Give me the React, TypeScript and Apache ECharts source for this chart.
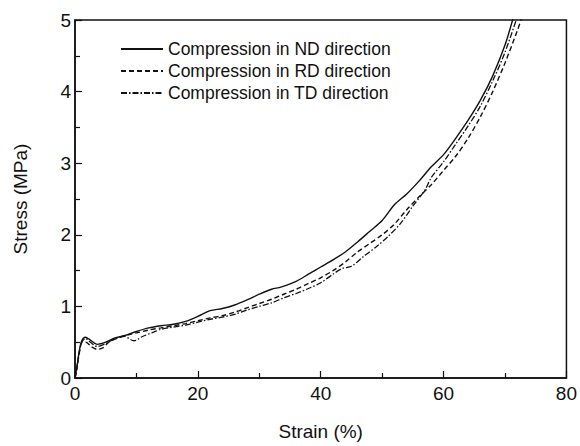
import React, { useEffect, useRef } from "react";
import * as echarts from "echarts";

const xTicks = [0, 20, 40, 60, 80];
const yTicks = [0, 1, 2, 3, 4, 5];

const seriesNames = [
  "Compression in ND direction",
  "Compression in RD direction",
  "Compression in TD direction",
];

// strain (%), stress (MPa)
const ndData: number[][] = [
  [0, 0], [0.3, 0.15], [0.7, 0.38], [1.1, 0.52], [1.7, 0.57], [2.5, 0.53], [3.6, 0.47],
  [5, 0.5], [6.5, 0.56], [8, 0.59], [10, 0.65], [12, 0.7], [14, 0.73], [16, 0.75],
  [18, 0.79], [20, 0.86], [22, 0.94], [24, 0.97], [26, 1.02], [28, 1.09], [30, 1.17],
  [32, 1.24], [33.5, 1.27], [36, 1.35], [38, 1.45], [40, 1.55], [42, 1.65], [44, 1.76],
  [46, 1.9], [48, 2.05], [50, 2.2], [52, 2.42], [54, 2.57], [56, 2.75], [58, 2.95],
  [60, 3.12], [62, 3.35], [64, 3.6], [66, 3.88], [68, 4.22], [70, 4.65], [71.3, 5.02],
];

const rdData: number[][] = [
  [0, 0], [0.3, 0.12], [0.7, 0.35], [1.2, 0.5], [1.8, 0.5], [2.6, 0.44], [3.6, 0.4],
  [4.5, 0.42], [5.5, 0.5], [7, 0.56], [8.5, 0.6], [10, 0.63], [12, 0.67], [14, 0.7],
  [16, 0.73], [18, 0.76], [20, 0.8], [22, 0.84], [24, 0.87], [26, 0.92], [28, 0.98],
  [30, 1.04], [32, 1.1], [34, 1.17], [36, 1.24], [38, 1.32], [40, 1.4], [42, 1.5],
  [44, 1.62], [46, 1.76], [48, 1.88], [50, 2.0], [52, 2.15], [54, 2.35], [56, 2.53],
  [58, 2.7], [60, 2.9], [62, 3.1], [64, 3.35], [66, 3.65], [68, 4.0], [70, 4.4],
  [72, 4.85], [72.8, 5.05],
];

const tdData: number[][] = [
  [0, 0], [0.3, 0.14], [0.7, 0.36], [1.1, 0.5], [1.7, 0.55], [2.5, 0.5], [3.6, 0.44],
  [5, 0.48], [6.5, 0.55], [8, 0.58], [9.6, 0.52], [11, 0.58], [12.8, 0.64], [14, 0.68],
  [16, 0.71], [18, 0.74], [20, 0.78], [22, 0.82], [24, 0.85], [26, 0.89], [28, 0.95],
  [30, 1.0], [32, 1.05], [34, 1.12], [36, 1.18], [38, 1.25], [40, 1.33], [42, 1.45],
  [43.5, 1.53], [45, 1.56], [47, 1.7], [49, 1.83], [51, 1.98], [53, 2.16], [55, 2.4],
  [57, 2.63], [58, 2.8], [60, 3.02], [62, 3.27], [64, 3.52], [66, 3.8], [68, 4.15],
  [70, 4.55], [71.9, 5.02],
];

const FONT = "'Liberation Sans', Arial, Helvetica, sans-serif";
const INK = "#111111";

export default function App() {
  const ref = useRef<HTMLDivElement>(null);

  useEffect(() => {
    if (!ref.current) return;
    const chart = echarts.init(ref.current, undefined, { renderer: "svg" });
    const lineBase = { type: "line" as const, showSymbol: false, symbol: "none", smooth: 0.3 };
    chart.setOption({
      animation: false,
      backgroundColor: "#ffffff",
      grid: {
        left: 75,
        right: 13,
        top: 20,
        bottom: 63,
        show: true,
        borderColor: INK,
        borderWidth: 1.5,
        backgroundColor: "transparent",
      },
      legend: {
        orient: "vertical",
        left: 115,
        top: 35,
        itemWidth: 42,
        itemHeight: 14,
        itemGap: 4,
        itemStyle: { opacity: 0 },
        textStyle: { fontFamily: FONT, fontSize: 17.5, color: INK },
        data: seriesNames,
      },
      xAxis: {
        type: "value",
        min: xTicks[0],
        max: xTicks[xTicks.length - 1],
        interval: 20,
        name: "Strain (%)",
        nameLocation: "middle",
        nameGap: 44,
        nameTextStyle: { fontFamily: FONT, fontSize: 19, color: INK },
        axisLine: { show: true, lineStyle: { color: INK, width: 1.5 } },
        axisTick: { show: true, inside: true, length: 7, lineStyle: { color: INK, width: 1.2 } },
        minorTick: { show: true, splitNumber: 2, length: 5, lineStyle: { color: INK, width: 1.2 } },
        axisLabel: { fontFamily: FONT, fontSize: 19, color: INK, margin: 6 },
        splitLine: { show: false },
      },
      yAxis: {
        type: "value",
        min: yTicks[0],
        max: yTicks[yTicks.length - 1],
        interval: 1,
        name: "Stress (MPa)",
        nameLocation: "middle",
        nameGap: 45,
        nameTextStyle: { fontFamily: FONT, fontSize: 19, color: INK },
        axisLine: { show: true, lineStyle: { color: INK, width: 1.5 } },
        axisTick: { show: true, inside: true, length: 7, lineStyle: { color: INK, width: 1.2 } },
        minorTick: { show: true, splitNumber: 2, length: 5, lineStyle: { color: INK, width: 1.2 } },
        axisLabel: { fontFamily: FONT, fontSize: 19, color: INK, margin: 4 },
        splitLine: { show: false },
      },
      series: [
        {
          ...lineBase,
          name: seriesNames[0],
          data: ndData,
          lineStyle: { color: INK, width: 1.4, type: "solid" },
          itemStyle: { color: INK },
        },
        {
          ...lineBase,
          name: seriesNames[1],
          data: rdData,
          lineStyle: { color: INK, width: 1.4, type: [5, 3] },
          itemStyle: { color: INK },
        },
        {
          ...lineBase,
          name: seriesNames[2],
          data: tdData,
          lineStyle: { color: INK, width: 1.3, type: [6, 2, 1.5, 2] },
          itemStyle: { color: INK },
        },
      ],
    });
    return () => chart.dispose();
  }, []);

  return <div ref={ref} style={{ width: 580, height: 446, position: "absolute", left: 0, top: 0 }} />;
}
